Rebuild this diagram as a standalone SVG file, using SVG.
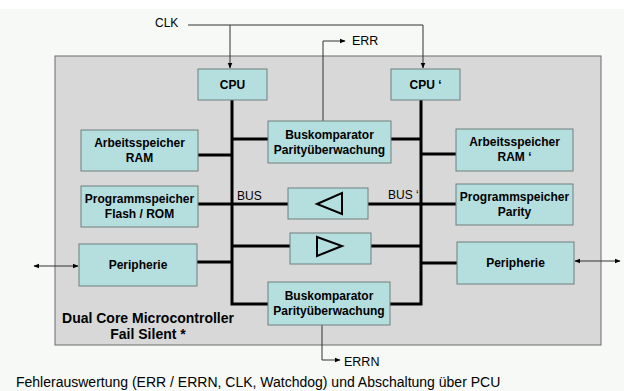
<svg xmlns="http://www.w3.org/2000/svg" width="624" height="391" viewBox="0 0 624 391">
<defs>
<marker id="ah" viewBox="0 0 10 10" refX="9" refY="5" markerWidth="6" markerHeight="6" orient="auto-start-reverse" markerUnits="userSpaceOnUse"><path d="M0,1 L10,5 L0,9 z" fill="#000"/></marker>
</defs>
<style>
.node{fill:#b5dede;stroke:#6f7f7f;stroke-width:1}
.t{font-family:"Liberation Sans",Arial,sans-serif;font-size:12px;font-weight:bold;fill:#000;text-anchor:middle}
.l{font-family:"Liberation Sans",Arial,sans-serif;font-size:12px;fill:#000}
.bus{stroke:#000;stroke-width:3;fill:none}
.sig{stroke:#333;stroke-width:1;fill:none}
.tri{fill:none;stroke:#000;stroke-width:2}
</style>
<rect x="0" y="0" width="624" height="391" fill="#ffffff"/>
<rect x="0" y="9" width="624" height="382" fill="#f6f9f6"/>
<g id="mcu">
<rect x="55" y="56" width="546" height="289" fill="#d8d8d8" stroke="#6a6a6a" stroke-width="1"/>
<text class="t" x="148" y="323" style="font-size:14px">Dual Core Microcontroller</text>
<text class="t" x="148" y="339" style="font-size:14px">Fail Silent *</text>
</g>
<g id="connectors">
<path class="bus" d="M232,100 V304 H268"/>
<path class="bus" d="M421,100 V304 H390"/>
<path class="bus" d="M198,155 H232"/>
<path class="bus" d="M198,204 H288"/>
<path class="bus" d="M232,139 H268"/>
<path class="bus" d="M391,139 H421"/>
<path class="bus" d="M368,204 H456"/>
<path class="bus" d="M232,246 H290"/>
<path class="bus" d="M371,246 H421"/>
<path class="bus" d="M197,262 H232"/>
<path class="bus" d="M421,154 H456"/>
<path class="bus" d="M421,263 H457"/>
<path class="sig" d="M188,25 H423 V68" marker-end="url(#ah)"/>
<path class="sig" d="M230,25 V68" marker-end="url(#ah)"/>
<path class="sig" d="M323,121 V41 H345" marker-end="url(#ah)"/>
<path class="sig" d="M322,325 V360 H340" marker-end="url(#ah)"/>
<path class="sig" d="M34,266 H78" marker-start="url(#ah)" marker-end="url(#ah)"/>
<path class="sig" d="M575,261 H620" marker-start="url(#ah)" marker-end="url(#ah)"/>
<text class="l" x="237" y="200">BUS</text>
<text class="l" x="388" y="199">BUS ‘</text>
<text class="l" x="155" y="27">CLK</text>
<text class="l" x="352" y="45" style="font-size:12.5px">ERR</text>
<text class="l" x="344" y="366" style="font-size:12.5px">ERRN</text>
</g>
<g id="cpu">
<rect class="node" x="198" y="69" width="69" height="31"/>
<text class="t" x="232.5" y="89">CPU</text>
</g>
<g id="cpu2">
<rect class="node" x="391" y="69" width="69" height="31"/>
<text class="t" x="425.5" y="89">CPU ‘</text>
</g>
<g id="ram">
<rect class="node" x="81" y="130" width="117" height="41"/>
<text class="t" x="139.5" y="147">Arbeitsspeicher</text>
<text class="t" x="139.5" y="162">RAM</text>
</g>
<g id="rom">
<rect class="node" x="81" y="186" width="117" height="41"/>
<text class="t" x="139.5" y="203">Programmspeicher</text>
<text class="t" x="139.5" y="218">Flash / ROM</text>
</g>
<g id="peri">
<rect class="node" x="79" y="244" width="118" height="42"/>
<text class="t" x="138" y="269">Peripherie</text>
</g>
<g id="ram2">
<rect class="node" x="456" y="129" width="117" height="42"/>
<text class="t" x="514.5" y="146">Arbeitsspeicher</text>
<text class="t" x="514.5" y="161">RAM ‘</text>
</g>
<g id="rom2">
<rect class="node" x="456" y="184" width="117" height="41"/>
<text class="t" x="514.5" y="201">Programmspeicher</text>
<text class="t" x="514.5" y="216">Parity</text>
</g>
<g id="peri2">
<rect class="node" x="457" y="242" width="117" height="42"/>
<text class="t" x="515.5" y="267">Peripherie</text>
</g>
<g id="cmp1">
<rect class="node" x="268" y="121" width="123" height="42"/>
<text class="t" x="329.5" y="139">Buskomparator</text>
<text class="t" x="329.5" y="154">Parityüberwachung</text>
</g>
<g id="drv1">
<rect class="node" x="288" y="188" width="80" height="31"/>
<polygon class="tri" points="317,204 342,193 342,214"/>
</g>
<g id="drv2">
<rect class="node" x="290" y="233" width="81" height="31"/>
<polygon class="tri" points="317,237 342,246 317,256"/>
</g>
<g id="cmp2">
<rect class="node" x="268" y="282" width="122" height="43"/>
<text class="t" x="329" y="300">Buskomparator</text>
<text class="t" x="329" y="315">Parityüberwachung</text>
</g>
<text class="l" x="16" y="387" style="font-size:14px">Fehlerauswertung (ERR / ERRN, CLK, Watchdog) und Abschaltung über PCU</text>
</svg>
